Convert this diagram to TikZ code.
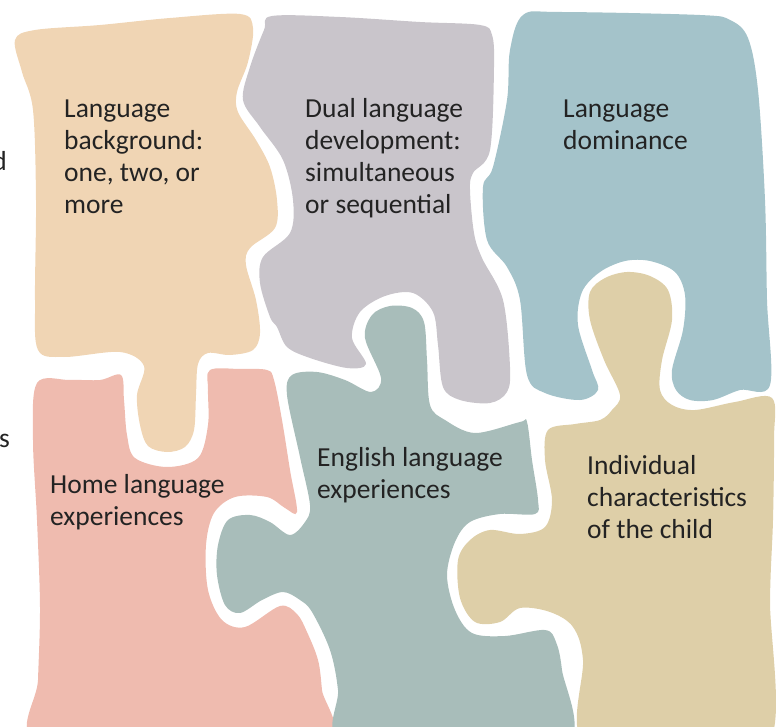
\documentclass[tikz,border=0pt]{standalone}
\usepackage{fontspec}
\setmainfont{Carlito}
\definecolor{beigefill}{HTML}{F0D5B4}
\definecolor{grayfill}{HTML}{C9C5CB}
\definecolor{bluefill}{HTML}{A4C3CA}
\definecolor{pinkfill}{HTML}{EFBBAF}
\definecolor{greenfill}{HTML}{A8BDBA}
\definecolor{yellowfill}{HTML}{DECFA8}
\definecolor{inkgray}{HTML}{232323}
\tikzset{
  piecetext/.style={anchor=base west, align=left, inner sep=0pt, text=inkgray,
    font=\fontsize{27.5}{32}\selectfont},
  cuttext/.style={anchor=base east, inner sep=0pt, text=inkgray,
    font=\fontsize{27.5}{32}\selectfont}
}
\begin{document}
\begin{tikzpicture}[x=1pt,y=-1pt]
      \useasboundingbox (0,0) rectangle (776,727);
      \begin{scope}[smooth cycle, tension=0.55]
        % top row
        \fill[beigefill] plot coordinates {(15,40) (35,30) (100,25) (170,18) (240,14)
          (253,28) (248,62) (237,92) (238,112) (256,140) (270,167) (277,200) (275,228)
          (250,248) (246,265) (256,300) (260,333) (253,350) (230,355) (208,353)
          (198,364) (196,395) (194,430) (185,447) (167,452) (148,446) (140,425)
          (137,395) (144,366) (120,352) (64,357) (38,350) (35,300) (36,200) (33,110)
          (22,72)};
        \fill[grayfill] plot coordinates {(272,16) (340,17) (420,22) (480,25) (492,35)
          (494,67) (490,150) (473,173) (470,190) (474,233) (482,258) (503,300)
          (510,367) (507,392) (490,403) (460,400) (443,387) (438,345) (433,312)
          (413,293) (385,296) (360,312) (352,338) (366,364) (347,368) (310,358)
          (287,347) (277,327) (270,317) (260,283) (263,257) (290,233) (293,200)
          (283,160) (260,127) (243,100) (250,67) (264,30)};
        \fill[bluefill] plot coordinates {(523,15) (560,12) (700,15) (730,20) (748,38)
          (758,90) (765,200) (767,300) (770,385) (740,390) (713,400) (690,400)
          (676,390) (672,370) (683,330) (685,295) (675,272) (650,261) (625,261)
          (600,272) (582,292) (578,325) (592,370) (598,390) (580,400) (545,393)
          (527,375) (520,300) (507,267) (487,240) (483,187) (493,167) (507,100)
          (510,50)};
        % bottom row
        \fill[pinkfill] plot coordinates {(37,383) (70,380) (100,380) (121,375)
          (124,400) (127,435) (135,458) (167,467) (198,458) (208,425) (208,390)
          (210,370) (240,369) (267,370) (274,380) (282,420) (290,470) (297,512)
          (285,508) (267,497) (235,497) (214,513) (206,545) (208,590) (222,620)
          (245,627) (280,606) (297,614) (307,632) (318,660) (322,690) (326,740)
          (180,740) (36,740) (38,680) (40,607) (37,520) (33,440)};
        \fill[greenfill] plot coordinates {(292,375) (317,372) (345,380) (371,392)
          (381,378) (365,338) (372,315) (390,306) (412,308) (424,322) (427,360)
          (430,405) (445,420) (475,433) (520,422) (527,422) (532,460) (538,500)
          (535,514) (500,514) (470,522) (455,542) (447,575) (455,610) (472,633)
          (505,636) (545,630) (556,642) (562,670) (568,740) (450,740) (340,740)
          (338,690) (330,650) (312,612) (300,600) (283,592) (262,600) (240,613)
          (225,605) (217,575) (218,545) (228,520) (250,515) (270,522) (290,535)
          (305,522) (310,505) (300,457) (287,395)};
        \fill[yellowfill] plot coordinates {(548,430) (575,424) (600,420) (612,410)
          (620,395) (604,360) (590,320) (590,292) (605,278) (627,272) (650,276)
          (668,290) (672,320) (662,360) (660,390) (672,405) (695,410) (735,402)
          (772,398) (774,440) (773,520) (770,600) (770,740) (680,740) (583,740)
          (583,660) (573,627) (550,612) (520,608) (500,622) (475,622) (460,598)
          (458,560) (470,540) (490,530) (520,534) (545,527) (552,500) (545,460)};
      \end{scope}
      % anchors sit on the last line of each text
      \node[piecetext] (bgtext) at (64,214) {Language\\background:\\one, two, or\\more};
      \node[piecetext] (dltext) at (305,214) {Dual language\\development:\\simultaneous\\or sequential};
      \node[piecetext] (ldtext) at (563,150) {Language\\dominance};
      \node[piecetext] (hltext) at (50,525) {Home language\\experiences};
      \node[piecetext] (eltext) at (317,498) {English language\\experiences};
      \node[piecetext] (ictext) at (587,538) {Individual\\characteristics\\of the child};
      \node[cuttext] (cutd) at (7,171) {d};
      \node[cuttext] (cuts) at (10,447) {s};
    \end{tikzpicture}
\end{document}
